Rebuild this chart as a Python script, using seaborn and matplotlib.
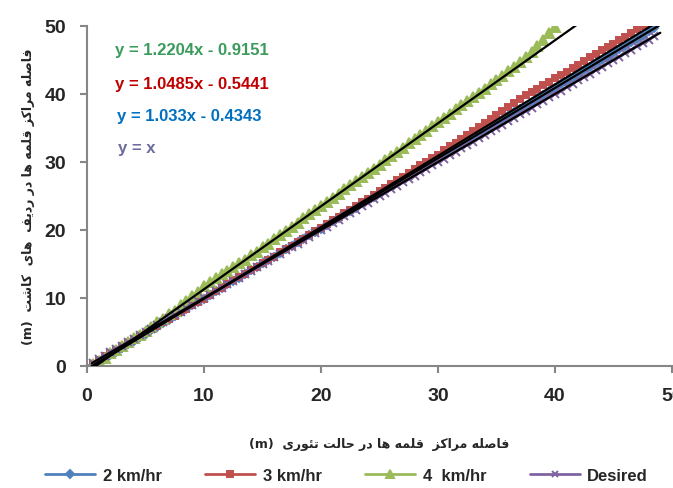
#Import Necessary Libraries
import pandas as pd
import seaborn as sns
from matplotlib import pyplot as plt

#Data (theoretical distance vs measured distance, m)
x_theory = [0.5, 1, 1.5, 2, 2.5, 3, 3.5, 4, 4.5, 5, 5.5, 6, 6.5, 7, 7.5, 8, 8.5, 9, 9.5, 10,
            10.5, 11, 11.5, 12, 12.5, 13, 13.5, 14, 14.5, 15, 15.5, 16, 16.5, 17, 17.5, 18, 18.5, 19, 19.5, 20,
            20.5, 21, 21.5, 22, 22.5, 23, 23.5, 24, 24.5, 25, 25.5, 26, 26.5, 27, 27.5, 28, 28.5, 29, 29.5, 30,
            30.5, 31, 31.5, 32, 32.5, 33, 33.5, 34, 34.5, 35, 35.5, 36, 36.5, 37, 37.5, 38, 38.5, 39, 39.5, 40,
            40.5, 41, 41.5, 42, 42.5, 43, 43.5, 44, 44.5, 45, 45.5, 46, 46.5, 47, 47.5, 48, 48.5]

speed2 = [0.1, 0.6, 1.1, 1.6, 2.1, 2.7, 3.2, 3.7, 4.2, 4.7, 5.3, 5.8, 6.3, 6.8, 7.3, 7.9, 8.4, 8.9, 9.4, 9.9,
          10.4, 11.0, 11.5, 12.0, 12.5, 13.0, 13.5, 14.1, 14.6, 15.1, 15.6, 16.1, 16.6, 17.2, 17.7, 18.2, 18.7, 19.2, 19.7, 20.2,
          20.8, 21.3, 21.8, 22.3, 22.8, 23.3, 23.9, 24.4, 24.9, 25.4, 25.9, 26.5, 27.0, 27.5, 28.0, 28.5, 29.0, 29.5, 30.0, 30.6,
          31.1, 31.6, 32.1, 32.6, 33.1, 33.7, 34.2, 34.7, 35.2, 35.7, 36.2, 36.8, 37.3, 37.8, 38.3, 38.8, 39.4, 39.9, 40.4, 40.9,
          41.4, 41.9, 42.4, 43.0, 43.5, 44.0, 44.5, 45.0, 45.5, 46.1, 46.6, 47.1, 47.6, 48.1, 48.6, 49.2, 49.7]

speed3 = [0.3, 0.9, 1.4, 1.9, 2.4, 2.9, 3.4, 3.9, 4.4, 4.9, 5.4, 5.9, 6.4, 6.9, 7.4, 7.9, 8.4, 8.9, 9.4, 9.9,
          10.5, 11.0, 11.5, 12.1, 12.6, 13.1, 13.6, 14.1, 14.6, 15.1, 15.6, 16.1, 16.7, 17.2, 17.7, 18.2, 18.7, 19.3, 19.8, 20.3,
          20.9, 21.4, 21.9, 22.5, 23.0, 23.5, 24.1, 24.6, 25.1, 25.7, 26.2, 26.8, 27.3, 27.8, 28.4, 28.9, 29.5, 30.0, 30.6, 31.1,
          31.7, 32.3, 32.8, 33.4, 34.0, 34.6, 35.1, 35.7, 36.3, 36.9, 37.5, 38.1, 38.7, 39.3, 39.8, 40.3, 40.8, 41.3, 41.8, 42.3,
          42.8, 43.3, 43.8, 44.3, 44.9, 45.4, 45.9, 46.4, 46.9, 47.4, 47.9, 48.4, 48.9, 49.5, 50.0, 50.4]

speed4 = [0.3, 0.8, 1.2, 1.9, 2.4, 3.0, 3.5, 4.1, 4.6, 5.2, 5.7, 6.4, 6.9, 7.6, 8.1, 8.9, 9.5, 10.3, 10.9, 11.8,
          12.3, 12.9, 13.5, 14.0, 14.6, 15.1, 15.6, 16.3, 16.8, 17.5, 18.0, 18.7, 19.2, 19.9, 20.5, 21.1, 21.7, 22.3, 22.9, 23.5,
          24.1, 24.7, 25.3, 26.0, 26.6, 27.2, 27.8, 28.4, 29.0, 29.6, 30.3, 30.9, 31.5, 32.1, 32.8, 33.4, 34.0, 34.6, 35.3, 35.9,
          36.5, 37.1, 37.8, 38.4, 39.0, 39.6, 40.2, 40.8, 41.4, 42.1, 42.7, 43.4, 44.0, 44.7, 45.4, 46.2, 47.1, 48.0, 49.0, 49.8]

desired = x_theory

#Trendline coefficients shown on the chart (slope, intercept)
trend_slope = [1.2204, 1.0485, 1.033, 1.0]
trend_icept = [-0.9151, -0.5441, -0.4343, 0.0]
trend_text = ['y = 1.2204x - 0.9151', 'y = 1.0485x - 0.5441', 'y = 1.033x - 0.4343', 'y = x']
trend_color = ['#3A9B5C', '#C00000', '#0070C0', '#6B6B9E']

labels = ['2 km/hr', '3 km/hr', '4  km/hr', 'Desired']
colors = ['#4F81BD', '#C0504D', '#9BBB59', '#8064A2']
markers = ['D', 's', '^', 'x']
msizes = [4.5, 5, 7, 5.5]


#Simple Persian shaping (matplotlib has no bidi / joining support)
FORMS = {
    'ا': ('\uFE8D', '\uFE8E', None, None),
    'د': ('\uFEA9', '\uFEAA', None, None),
    'ر': ('\uFEAD', '\uFEAE', None, None),
    'ز': ('\uFEAF', '\uFEB0', None, None),
    'و': ('\uFEED', '\uFEEE', None, None),
    'ف': ('\uFED1', '\uFED2', '\uFED3', '\uFED4'),
    'ص': ('\uFEB9', '\uFEBA', '\uFEBB', '\uFEBC'),
    'ل': ('\uFEDD', '\uFEDE', '\uFEDF', '\uFEE0'),
    'ه': ('\uFEE9', '\uFEEA', '\uFEEB', '\uFEEC'),
    'م': ('\uFEE1', '\uFEE2', '\uFEE3', '\uFEE4'),
    'ق': ('\uFED5', '\uFED6', '\uFED7', '\uFED8'),
    'ح': ('\uFEA1', '\uFEA2', '\uFEA3', '\uFEA4'),
    'ت': ('\uFE95', '\uFE96', '\uFE97', '\uFE98'),
    'ش': ('\uFEB5', '\uFEB6', '\uFEB7', '\uFEB8'),
    'ئ': ('\uFE89', '\uFE8A', '\uFE8B', '\uFE8C'),
    'ک': ('\uFB8E', '\uFB8F', '\uFB90', '\uFB91'),
    'ی': ('\uFBFC', '\uFBFD', '\uFBFE', '\uFBFF'),
}


def shape(text):
    out = []
    for i, ch in enumerate(text):
        if ch not in FORMS:
            out.append(ch)
            continue
        prev = text[i - 1] if i > 0 else ''
        nxt = text[i + 1] if i + 1 < len(text) else ''
        join_prev = prev in FORMS and FORMS[prev][2] is not None
        join_next = nxt in FORMS and FORMS[ch][2] is not None
        iso, fin, ini, med = FORMS[ch]
        if join_prev and join_next:
            out.append(med)
        elif join_prev:
            out.append(fin)
        elif join_next:
            out.append(ini)
        else:
            out.append(iso)
    return ''.join(out)[::-1]


xlabel = '(m)  ' + shape('فاصله مراکز  قلمه ها در حالت تئوری')
ylabel = '(m)  ' + shape('فاصله مراکز قلمه ها در ردیف  های  کاشت')

#Visualization
sns.set_style('white')
plt.rcParams['font.family'] = ['Liberation Sans', 'DejaVu Sans']

fig = plt.figure(figsize=(6.73, 4.89), dpi=100)
ax = fig.add_axes([0.1293, 0.2495, 0.8692, 0.6953])

series = [speed2, speed3, speed4, desired]
for i, ys in enumerate(series):
    xs = x_theory[:len(ys)]
    df = pd.DataFrame({'x': xs, 'y': ys})
    sns.lineplot(data=df, x='x', y='y', ax=ax, color=colors[i], marker=markers[i],
                 markersize=msizes[i], markeredgecolor=colors[i], markeredgewidth=1.4,
                 linewidth=2, label=labels[i], errorbar=None, sort=False)

#Trendlines (black)
trend_x = pd.Series([0.4, 49.0])
for s, b in zip(trend_slope, trend_icept):
    ax.plot(trend_x, s * trend_x + b, color='black', lw=1.6, zorder=5)

#Trendline equations
eq_y = [46.5, 41.5, 36.9, 32.1]
eq_x = [2.4, 2.4, 2.55, 2.65]
for i in range(4):
    ax.text(eq_x[i], eq_y[i], trend_text[i], color=trend_color[i], fontsize=12,
            fontweight='bold', va='center', ha='left')

ax.set_xlim(0, 50)
ax.set_ylim(0, 50)
ax.set_xticks([0, 10, 20, 30, 40, 50])
ax.set_yticks([0, 10, 20, 30, 40, 50])
for lab in ax.get_xticklabels() + ax.get_yticklabels():
    lab.set_fontweight('bold')
ax.tick_params(axis='both', labelsize=14, length=5, width=1.5, color='#868686', pad=10,
               bottom=True, left=True)
for side in ['top', 'right']:
    ax.spines[side].set_visible(False)
for side in ['left', 'bottom']:
    ax.spines[side].set_color('#868686')
    ax.spines[side].set_linewidth(1.5)

ax.set_xlabel(xlabel, fontsize=9, fontweight='bold', labelpad=24,
              family=['DejaVu Sans'])
ax.set_ylabel(ylabel, fontsize=9, fontweight='bold', labelpad=7,
              family=['DejaVu Sans'])

ax.get_legend().remove()
handles, labs = ax.get_legend_handles_labels()
fig.legend(handles[:4], labs[:4], loc='center', bbox_to_anchor=(0.515, 0.025), ncol=4,
           frameon=False, prop={'weight': 'bold', 'size': 12}, handlelength=3.0,
           columnspacing=2.6, handletextpad=0.45, markerscale=0.8)

#Save Plot
fig.savefig('out.png', dpi=100)
